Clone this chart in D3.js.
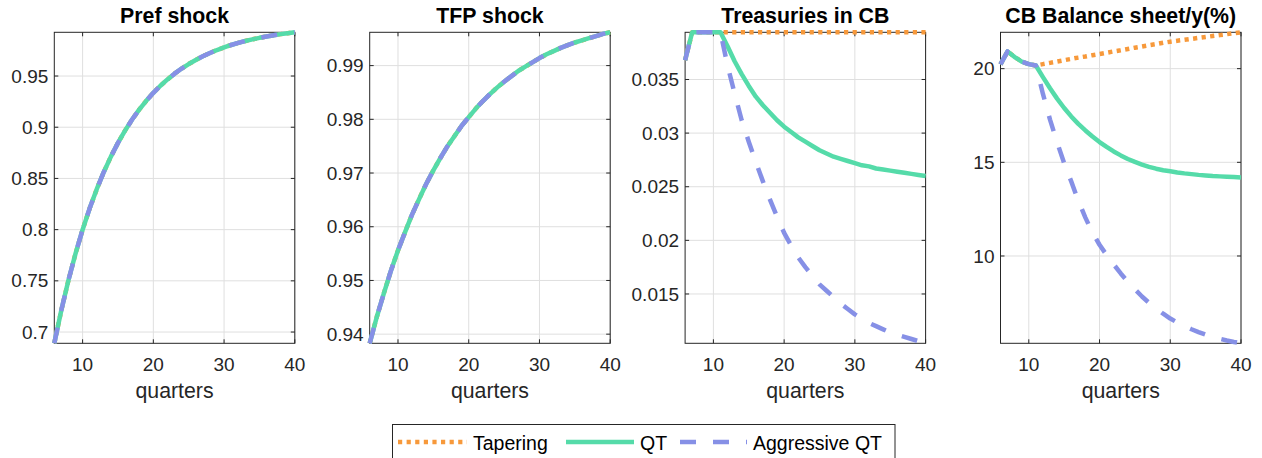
<!DOCTYPE html>
<html>
<head>
<meta charset="utf-8">
<script src="https://cdn.jsdelivr.net/npm/d3@7"></script>
<style>
  body { margin: 0; background: #fff; }
  text { font-family: "Liberation Sans", Arial, Helvetica, sans-serif; fill: #262626; }
</style>
</head>
<body>
<script>
let quarters = [6,7,8,9,10,11,12,13,14,15,16,17,18,19,20,21,22,23,24,25,26,27,28,29,30,31,32,33,34,35,36,37,38,39,40];

let prefShock = [0.6890,0.7215,0.7506,0.7766,0.7999,0.8208,0.8395,0.8563,0.8713,0.8847,0.8967,0.9075,0.9172,0.9258,0.9336,0.9405,0.9467,0.9523,0.9573,0.9617,0.9657,0.9693,0.9725,0.9754,0.9779,0.9803,0.9823,0.9842,0.9858,0.9873,0.9886,0.9898,0.9909,0.9918,0.9927];

let tfpShock = [0.9383,0.9432,0.9476,0.9518,0.9556,0.9590,0.9623,0.9652,0.9680,0.9705,0.9728,0.9750,0.9769,0.9788,0.9804,0.9820,0.9834,0.9847,0.9859,0.9870,0.9880,0.9890,0.9898,0.9906,0.9914,0.9921,0.9927,0.9933,0.9938,0.9943,0.9947,0.9951,0.9955,0.9959,0.9962];

let treasTapering = [0.0368,0.0394,0.0394,0.0394,0.0394,0.0394,0.0394,0.0394,0.0394,0.0394,0.0394,0.0394,0.0394,0.0394,0.0394,0.0394,0.0394,0.0394,0.0394,0.0394,0.0394,0.0394,0.0394,0.0394,0.0394,0.0394,0.0394,0.0394,0.0394,0.0394,0.0394,0.0394,0.0394,0.0394,0.0394];
let treasQT = [0.0368,0.0394,0.0394,0.0394,0.0394,0.0394,0.0381,0.0367,0.0355,0.0344,0.0334,0.0326,0.0319,0.0312,0.0306,0.0301,0.0296,0.0292,0.0288,0.0284,0.0281,0.0278,0.0276,0.0274,0.0272,0.0270,0.0269,0.0267,0.0266,0.0265,0.0264,0.0263,0.0262,0.0261,0.0260];
let treasAggressive = [0.0368,0.0394,0.0394,0.0394,0.0394,0.0394,0.0363,0.0337,0.0312,0.0292,0.0273,0.0255,0.0238,0.0222,0.0207,0.0195,0.0184,0.0175,0.0167,0.0159,0.0153,0.0147,0.0141,0.0136,0.0131,0.0127,0.0123,0.0120,0.0117,0.0114,0.0112,0.0110,0.0108,0.0106,0.0104];

let bsTapering = [20.23,20.92,20.62,20.38,20.24,20.17,20.24,20.31,20.38,20.45,20.52,20.59,20.65,20.72,20.78,20.85,20.92,20.98,21.05,21.12,21.18,21.25,21.31,21.38,21.44,21.49,21.54,21.59,21.64,21.69,21.74,21.79,21.84,21.89,21.94];
let bsQT = [20.23,20.92,20.62,20.38,20.24,20.17,19.55,18.95,18.40,17.90,17.45,17.05,16.70,16.38,16.08,15.82,15.58,15.37,15.18,15.02,14.88,14.76,14.66,14.58,14.52,14.46,14.41,14.37,14.33,14.30,14.27,14.25,14.23,14.21,14.19];
let bsAggressive = [20.23,20.92,20.62,20.38,20.24,20.17,18.65,17.28,16.07,14.95,13.98,12.95,12.05,11.25,10.60,10.05,9.55,9.07,8.63,8.22,7.84,7.50,7.20,6.92,6.66,6.45,6.26,6.09,5.94,5.80,5.68,5.58,5.49,5.41,5.34];

let titles = ['Pref shock', 'TFP shock', 'Treasuries in CB', 'CB Balance sheet/y(%)'];
let xTicks = [10, 20, 30, 40];
let yTicks = [
  [0.7, 0.75, 0.8, 0.85, 0.9, 0.95],
  [0.94, 0.95, 0.96, 0.97, 0.98, 0.99],
  [0.015, 0.02, 0.025, 0.03, 0.035],
  [10, 15, 20]
];
let seriesNames = ['Tapering', 'QT', 'Aggressive QT'];
let panelSeries = [
  [prefShock, prefShock, prefShock],
  [tfpShock, tfpShock, tfpShock],
  [treasTapering, treasQT, treasAggressive],
  [bsTapering, bsQT, bsAggressive]
];

let styles = [
  {color: '#F7993B', dash: '4.2,4.4'},
  {color: '#55DBA9', dash: null},
  {color: '#8690E6', dash: '16,17'}
];

let axisColor = '#262626';
let gridColor = '#dfdfdf';
let plotW = 240.5, plotTop = 32.3, plotBottom = 343.3;
let tickLen = 4;

let svg = d3.select('body').append('svg')
  .attr('width', 1262)
  .attr('height', 458);

let drawPanel = (i) => {
  let left = 54.3 + i * 315.4;
  let all = panelSeries[i].flat();

  let x = d3.scaleLinear().domain(d3.extent(quarters)).range([left, left + plotW]);
  let y = d3.scaleLinear().domain(d3.extent(all)).range([plotBottom, plotTop]);

  let g = svg.append('g');

  // grid
  g.selectAll('.gx').data(xTicks).enter().append('line')
    .attr('x1', d => x(d)).attr('x2', d => x(d))
    .attr('y1', plotTop).attr('y2', plotBottom)
    .attr('stroke', gridColor).attr('stroke-width', 1);
  g.selectAll('.gy').data(yTicks[i]).enter().append('line')
    .attr('x1', left).attr('x2', left + plotW)
    .attr('y1', d => y(d)).attr('y2', d => y(d))
    .attr('stroke', gridColor).attr('stroke-width', 1);

  g.append('rect')
    .attr('x', left).attr('y', plotTop)
    .attr('width', plotW).attr('height', plotBottom - plotTop)
    .attr('fill', 'none').attr('stroke', axisColor).attr('stroke-width', 1);

  // inside ticks on all four sides
  xTicks.forEach(d => {
    g.append('line').attr('x1', x(d)).attr('x2', x(d))
      .attr('y1', plotBottom).attr('y2', plotBottom - tickLen).attr('stroke', axisColor);
    g.append('line').attr('x1', x(d)).attr('x2', x(d))
      .attr('y1', plotTop).attr('y2', plotTop + tickLen).attr('stroke', axisColor);
  });
  yTicks[i].forEach(d => {
    g.append('line').attr('x1', left).attr('x2', left + tickLen)
      .attr('y1', y(d)).attr('y2', y(d)).attr('stroke', axisColor);
    g.append('line').attr('x1', left + plotW).attr('x2', left + plotW - tickLen)
      .attr('y1', y(d)).attr('y2', y(d)).attr('stroke', axisColor);
  });

  g.selectAll('.xl').data(xTicks).enter().append('text')
    .attr('x', d => x(d)).attr('y', 370.5)
    .attr('text-anchor', 'middle')
    .style('font-size', '19px')
    .text(d => d);
  g.selectAll('.yl').data(yTicks[i]).enter().append('text')
    .attr('x', left - 6).attr('y', d => y(d))
    .attr('dy', '0.35em')
    .attr('text-anchor', 'end')
    .style('font-size', '19px')
    .text(d => String(d));

  g.append('text')
    .attr('x', left + plotW / 2).attr('y', 23)
    .attr('text-anchor', 'middle')
    .style('font-size', '21.3px').style('font-weight', 'bold')
    .style('fill', '#000')
    .text(titles[i]);

  g.append('text')
    .attr('x', left + plotW / 2).attr('y', 398)
    .attr('text-anchor', 'middle')
    .style('font-size', '21.3px')
    .text('quarters');

  let line = d3.line()
    .x((d, k) => x(quarters[k]))
    .y(d => y(d));

  panelSeries[i].forEach((s, k) => {
    g.append('path')
      .datum(s)
      .attr('d', line)
      .attr('fill', 'none')
      .attr('stroke', styles[k].color)
      .attr('stroke-width', 4.5)
      .attr('stroke-dasharray', styles[k].dash)
      .attr('stroke-linejoin', 'round');
  });
}

titles.forEach((t, i) => drawPanel(i));

// legend
let legend = svg.append('g');
legend.append('rect')
  .attr('x', 392.5).attr('y', 424.5)
  .attr('width', 502.5).attr('height', 40)
  .attr('fill', '#fff').attr('stroke', axisColor).attr('stroke-width', 1);

let legendX = [398, 566, 680];
let legendLen = [69, 68, 67];
seriesNames.forEach((name, k) => {
  legend.append('line')
    .attr('x1', legendX[k]).attr('x2', legendX[k] + legendLen[k])
    .attr('y1', 442).attr('y2', 442)
    .attr('stroke', styles[k].color)
    .attr('stroke-width', 4.5)
    .attr('stroke-dasharray', styles[k].dash);
  legend.append('text')
    .attr('x', legendX[k] + legendLen[k] + 6).attr('y', 449.5)
    .style('font-size', '19.5px')
    .style('fill', '#000')
    .text(name);
});
</script>
</body>
</html>
